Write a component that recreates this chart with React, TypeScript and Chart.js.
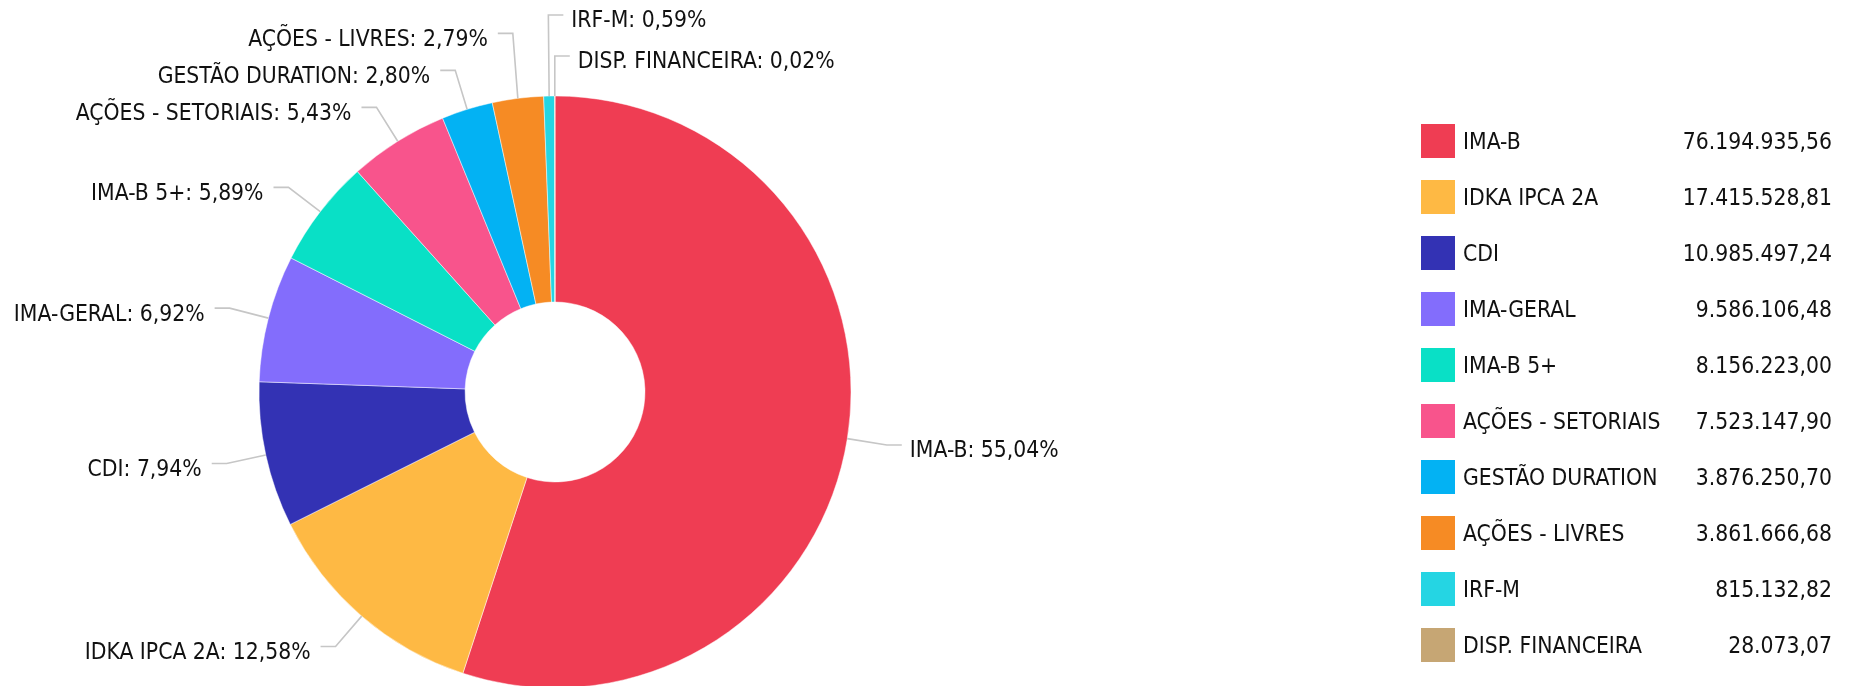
import React, { useEffect, useRef } from 'react';
import { Chart, registerables } from 'chart.js';

Chart.register(...registerables);

const categories: string[] = [
  'IMA-B',
  'IDKA IPCA 2A',
  'CDI',
  'IMA-GERAL',
  'IMA-B 5+',
  'AÇÕES - SETORIAIS',
  'GESTÃO DURATION',
  'AÇÕES - LIVRES',
  'IRF-M',
  'DISP. FINANCEIRA',
];

const values: number[] = [
  76194935.56, 17415528.81, 10985497.24, 9586106.48, 8156223.0, 7523147.9, 3876250.7, 3861666.68,
  815132.82, 28073.07,
];

const colors: string[] = [
  '#ef3d53',
  '#feb944',
  '#3332b4',
  '#836dfc',
  '#09e0c6',
  '#f8548c',
  '#03b2f3',
  '#f68b24',
  '#25d5e3',
  '#c6a674',
];

const W = 1854;
const H = 686;
const FONT_FAMILY = '"DejaVu Sans Condensed", "DejaVu Sans", sans-serif';
const FONT = `22.7px ${FONT_FAMILY}`;
const TEXT_COLOR = '#111111';
const LINE_COLOR = '#c6c6c6';

function formatBR(v: number): string {
  const [intPart, dec] = v.toFixed(2).split('.');
  const withDots = intPart.replace(/\B(?=(\d{3})+(?!\d))/g, '.');
  return `${withDots},${dec}`;
}

function formatPct(v: number, total: number): string {
  return `${((v / total) * 100).toFixed(2).replace('.', ',')}%`;
}

const labelPlugin = {
  id: 'pieLabels',
  afterDatasetsDraw(chart: any) {
    const meta = chart.getDatasetMeta(0);
    const ctx: CanvasRenderingContext2D = chart.ctx;
    const ds = chart.data.datasets[0];
    const data: number[] = ds.data;
    const labels: string[] = chart.data.labels;
    const total = data.reduce((a, b) => a + b, 0);
    const EXT = 40;
    const HSEG = 15;
    const items = meta.data.map((arc: any, i: number) => {
      const p = arc.getProps(['x', 'y', 'startAngle', 'endAngle', 'outerRadius'], true);
      const mid = (p.startAngle + p.endAngle) / 2;
      let deg = ((mid + Math.PI / 2) * 180) / Math.PI;
      deg = ((deg % 360) + 360) % 360;
      const right = deg < 180 || deg > 355;
      const cos = Math.cos(mid);
      const sin = Math.sin(mid);
      return {
        i,
        deg,
        order: deg > 180 ? deg - 360 : deg,
        right,
        sx: p.x + p.outerRadius * cos,
        sy: p.y + p.outerRadius * sin,
        ex: p.x + (p.outerRadius + EXT) * cos,
        ey: p.y + (p.outerRadius + EXT) * sin,
        text: `${labels[i]}: ${formatPct(data[i], total)}`,
      };
    });
    // resolve overlaps
    const left = items.filter((it: any) => !it.right).sort((a: any, b: any) => a.deg - b.deg);
    let prev = Infinity;
    for (const it of left) {
      it.ey = Math.min(it.ey, prev - 37);
      prev = it.ey;
    }
    const rightSide = items.filter((it: any) => it.right).sort((a: any, b: any) => b.order - a.order);
    prev = Infinity;
    for (const it of rightSide) {
      it.ey = Math.min(it.ey, prev - 41);
      prev = it.ey;
    }
    ctx.save();
    ctx.strokeStyle = LINE_COLOR;
    ctx.lineWidth = 1.6;
    ctx.font = FONT;
    ctx.fillStyle = TEXT_COLOR;
    ctx.textBaseline = 'middle';
    for (const it of items) {
      const dir = it.right ? 1 : -1;
      const hx = it.ex + dir * HSEG;
      ctx.beginPath();
      ctx.moveTo(it.sx, it.sy);
      ctx.lineTo(it.ex, it.ey);
      ctx.lineTo(hx, it.ey);
      ctx.stroke();
      ctx.textAlign = it.right ? 'left' : 'right';
      ctx.fillText(it.text, hx + dir * (it.right ? 8 : 10), it.ey + 6.5);
    }
    ctx.restore();
  },
};

const legendPlugin = {
  id: 'valueLegend',
  afterDraw(chart: any) {
    const ctx: CanvasRenderingContext2D = chart.ctx;
    const ds = chart.data.datasets[0];
    const labels: string[] = chart.data.labels;
    const boxX = 1421;
    const boxTop = 124;
    const box = 34;
    const pitch = 56;
    const textX = 1463;
    const valueX = 1832;
    ctx.save();
    ctx.font = FONT;
    ctx.textBaseline = 'middle';
    labels.forEach((lab, i) => {
      const top = boxTop + i * pitch;
      ctx.fillStyle = ds.backgroundColor[i];
      ctx.fillRect(boxX, top, box, box);
      ctx.fillStyle = TEXT_COLOR;
      ctx.textAlign = 'left';
      ctx.fillText(lab, textX, top + box / 2 + 2.5);
      ctx.textAlign = 'right';
      ctx.fillText(formatBR(ds.data[i]), valueX, top + box / 2 + 2.5);
    });
    ctx.restore();
  },
};

export default function App() {
  const ref = useRef<HTMLCanvasElement | null>(null);

  useEffect(() => {
    document.body.style.margin = '0';
    document.body.style.overflow = 'hidden';
    document.body.style.background = '#ffffff';
    const canvas = ref.current;
    if (!canvas) return;
    const chart = new Chart(canvas, {
      type: 'doughnut',
      data: {
        labels: categories,
        datasets: [
          {
            data: values,
            backgroundColor: colors,
            borderColor: 'rgba(255,255,255,0.6)',
            borderWidth: 0.8,
          },
        ],
      },
      options: {
        animation: false,
        responsive: false,
        maintainAspectRatio: false,
        radius: 296,
        cutout: '30.4%',
        layout: { padding: { left: 0, right: 744, top: 98, bottom: 0 } },
        plugins: {
          legend: { display: false },
          tooltip: { enabled: false },
        },
      } as any,
      plugins: [labelPlugin, legendPlugin],
    });
    return () => chart.destroy();
  }, []);

  return (
    <div style={{ width: W, height: H, background: '#ffffff' }}>
      <canvas ref={ref} width={W} height={H} style={{ width: W, height: H, display: 'block' }} />
    </div>
  );
}
